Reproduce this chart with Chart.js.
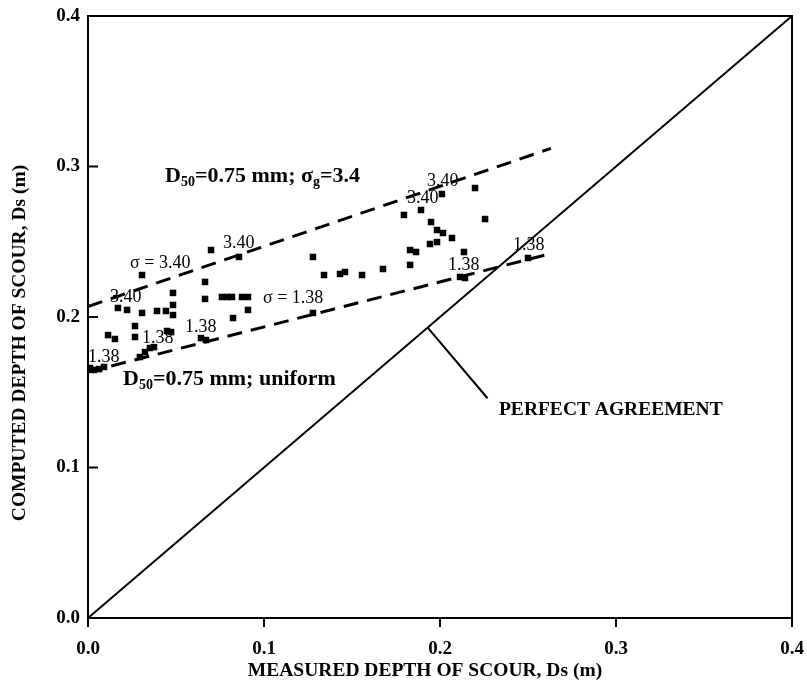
<!DOCTYPE html>
<html>
<head>
<meta charset="utf-8">
<script src="https://cdn.jsdelivr.net/npm/chart.js@4/dist/chart.umd.min.js"></script>
<style>
  html, body { margin: 0; padding: 0; background: #ffffff; }
  canvas { display: block; }
</style>
</head>
<body>
<canvas id="scour" width="807" height="683"></canvas>
<script>
// Measured vs computed scour depth (m)
const measured = [
  0.0011, 0.0034, 0.0063, 0.0091,
  0.0114, 0.0153, 0.0170, 0.0222, 0.0307, 0.0307, 0.0267, 0.0267,
  0.0392, 0.0443, 0.0483, 0.0483, 0.0483, 0.0449, 0.0472,
  0.0352, 0.0375, 0.0324, 0.0295,
  0.0699, 0.0858, 0.0665, 0.0665, 0.0761, 0.0790, 0.0818, 0.0875, 0.0909,
  0.0909, 0.0824, 0.0642, 0.0670,
  0.1278, 0.1341, 0.1432, 0.1460, 0.1557, 0.1676, 0.1278,
  0.1830, 0.1864, 0.1830,
  0.2011, 0.2199, 0.1892, 0.1795, 0.2256, 0.1949, 0.1983, 0.2017, 0.2068,
  0.1943, 0.1983, 0.2136, 0.2114, 0.2142, 0.2500
];
const computed = [
  0.1661, 0.1648, 0.1654, 0.1668,
  0.1880, 0.1854, 0.2060, 0.2047, 0.2279, 0.2027, 0.1940, 0.1867,
  0.2040, 0.2040, 0.2080, 0.2013, 0.2160, 0.1907, 0.1900,
  0.1794, 0.1800, 0.1767, 0.1734,
  0.2445, 0.2399, 0.2233, 0.2120, 0.2133, 0.2133, 0.2133, 0.2133, 0.2133,
  0.2047, 0.1993, 0.1860, 0.1847,
  0.2399, 0.2279, 0.2286, 0.2299, 0.2279, 0.2319, 0.2027,
  0.2445, 0.2432, 0.2346,
  0.2817, 0.2857, 0.2711, 0.2678, 0.2651, 0.2631, 0.2578, 0.2558, 0.2525,
  0.2485, 0.2498, 0.2432, 0.2266, 0.2259, 0.2392
];

// Envelope lines for the two sediment gradations
const gradedX = [0, 0.263];
const gradedY = [0.207, 0.312];
const uniformX = [0, 0.2625];
const uniformY = [0.1635, 0.242];

// Line of perfect agreement and its callout
const agreementX = [0, 0.4];
const agreementY = [0, 0.4];
const calloutX = [0.193, 0.227];
const calloutY = [0.193, 0.146];

// Axis ticks
const tickValues = [0, 0.1, 0.2, 0.3, 0.4];
const tickLabels = ['0.0', '0.1', '0.2', '0.3', '0.4'];

const xTitle = 'MEASURED DEPTH OF SCOUR, Ds (m)';
const yTitle = 'COMPUTED DEPTH OF SCOUR, Ds (m)';

// Sigma labels placed beside the data (left edge, baseline)
const sigmaNotes = [
  { text: 'σ = 3.40', x: 0.0239, y: 0.2326 },
  { text: '3.40', x: 0.0125, y: 0.2100 },
  { text: '3.40', x: 0.0767, y: 0.2458 },
  { text: '1.38', x: 0.0551, y: 0.1900 },
  { text: '1.38', x: 0.0307, y: 0.1827 },
  { text: '1.38', x: 0.0000, y: 0.1701 },
  { text: 'σ = 1.38', x: 0.0994, y: 0.2093 },
  { text: '3.40', x: 0.1926, y: 0.2870 },
  { text: '3.40', x: 0.1813, y: 0.2757 },
  { text: '1.38', x: 0.2045, y: 0.2312 },
  { text: '1.38', x: 0.2415, y: 0.2445 }
];

// Bold captions; each part is [text, isSubscript]
const captions = [
  { size: 22, parts: [['D', false], ['50', true], ['=0.75 mm; σ', false], ['g', true], ['=3.4', false]], x: 0.0438, y: 0.2897 },
  { size: 22, parts: [['D', false], ['50', true], ['=0.75 mm; uniform', false]], x: 0.0199, y: 0.1548 },
  { size: 19.5, parts: [['PERFECT AGREEMENT', false]], x: 0.2335, y: 0.1349 }
];

const pairs = (xs, ys) => xs.map((x, i) => ({ x: x, y: ys[i] }));

const SERIF = '"Liberation Serif", "Times New Roman", serif';

const decorations = {
  id: 'decorations',
  afterDraw(chart) {
    const { ctx, chartArea: a, scales: { x, y } } = chart;
    ctx.save();
    // top and right frame
    ctx.strokeStyle = '#000';
    ctx.lineWidth = 2;
    ctx.beginPath();
    ctx.moveTo(a.left, a.top);
    ctx.lineTo(a.right, a.top);
    ctx.lineTo(a.right, a.bottom);
    ctx.stroke();
    // inward ticks on the vertical axis
    tickValues.forEach(v => {
      const py = y.getPixelForValue(v);
      ctx.beginPath();
      ctx.moveTo(a.left, py);
      ctx.lineTo(a.left + 10, py);
      ctx.stroke();
    });

    ctx.fillStyle = '#000';
    ctx.textBaseline = 'alphabetic';
    ctx.textAlign = 'left';

    // sigma labels
    ctx.font = '18px ' + SERIF;
    sigmaNotes.forEach(n => {
      ctx.fillText(n.text, x.getPixelForValue(n.x), y.getPixelForValue(n.y));
    });

    // bold captions with subscripts
    captions.forEach(c => {
      let px = x.getPixelForValue(c.x);
      const py = y.getPixelForValue(c.y);
      c.parts.forEach(([t, sub]) => {
        ctx.font = 'bold ' + (sub ? Math.round(c.size * 0.62) : c.size) + 'px ' + SERIF;
        ctx.fillText(t, px, sub ? py + 4 : py);
        px += ctx.measureText(t).width;
      });
    });

    // axis titles
    ctx.font = 'bold 19.5px ' + SERIF;
    ctx.textAlign = 'center';
    ctx.fillText(xTitle, a.left + 337, a.bottom + 58);
    ctx.translate(a.left - 63, a.top + 327);
    ctx.rotate(-Math.PI / 2);
    ctx.fillText(yTitle, 0, 0);
    ctx.restore();
  }
};

const lineStyle = (data, extra) => Object.assign({
  type: 'line',
  data: data,
  showLine: true,
  borderColor: '#000',
  backgroundColor: '#000',
  pointRadius: 0,
  fill: false,
  tension: 0
}, extra);

new Chart(document.getElementById('scour'), {
  type: 'scatter',
  data: {
    datasets: [
      lineStyle(pairs(agreementX, agreementY), { borderWidth: 2 }),
      lineStyle(pairs(calloutX, calloutY), { borderWidth: 2 }),
      lineStyle(pairs(gradedX, gradedY), { borderWidth: 3, borderDash: [15, 9] }),
      lineStyle(pairs(uniformX, uniformY), { borderWidth: 3, borderDash: [15, 9] }),
      {
        type: 'scatter',
        data: pairs(measured, computed),
        pointStyle: 'rect',
        pointRadius: 4.6,
        pointHoverRadius: 4.6,
        borderWidth: 0,
        backgroundColor: '#000',
        borderColor: '#000'
      }
    ]
  },
  options: {
    responsive: false,
    animation: false,
    events: [],
    layout: { padding: { left: 0, top: 16, right: 15, bottom: 0 } },
    plugins: { legend: { display: false }, tooltip: { enabled: false } },
    scales: {
      x: {
        type: 'linear',
        min: 0, max: 0.4,
        afterFit(s) { s.height = 65; s.paddingLeft = 0; s.paddingRight = 0; },
        afterBuildTicks(s) { s.ticks = tickValues.map(v => ({ value: v })); },
        border: { display: true, color: '#000', width: 2 },
        grid: { display: true, drawOnChartArea: false, drawTicks: true, tickLength: 9, color: '#000', lineWidth: 2 },
        ticks: {
          padding: 11,
          color: '#000',
          font: { family: SERIF, size: 19, weight: 'bold' },
          maxRotation: 0,
          callback: (v) => tickLabels[tickValues.indexOf(v)]
        }
      },
      y: {
        type: 'linear',
        min: 0, max: 0.4,
        afterFit(s) { s.width = 88; s.paddingTop = 0; s.paddingBottom = 0; },
        afterBuildTicks(s) { s.ticks = tickValues.map(v => ({ value: v })); },
        border: { display: true, color: '#000', width: 2 },
        grid: { display: false, drawTicks: false },
        ticks: {
          padding: 8,
          color: '#000',
          font: { family: SERIF, size: 19, weight: 'bold' },
          callback: (v) => tickLabels[tickValues.indexOf(v)]
        }
      }
    }
  },
  plugins: [decorations]
});
</script>
</body>
</html>
